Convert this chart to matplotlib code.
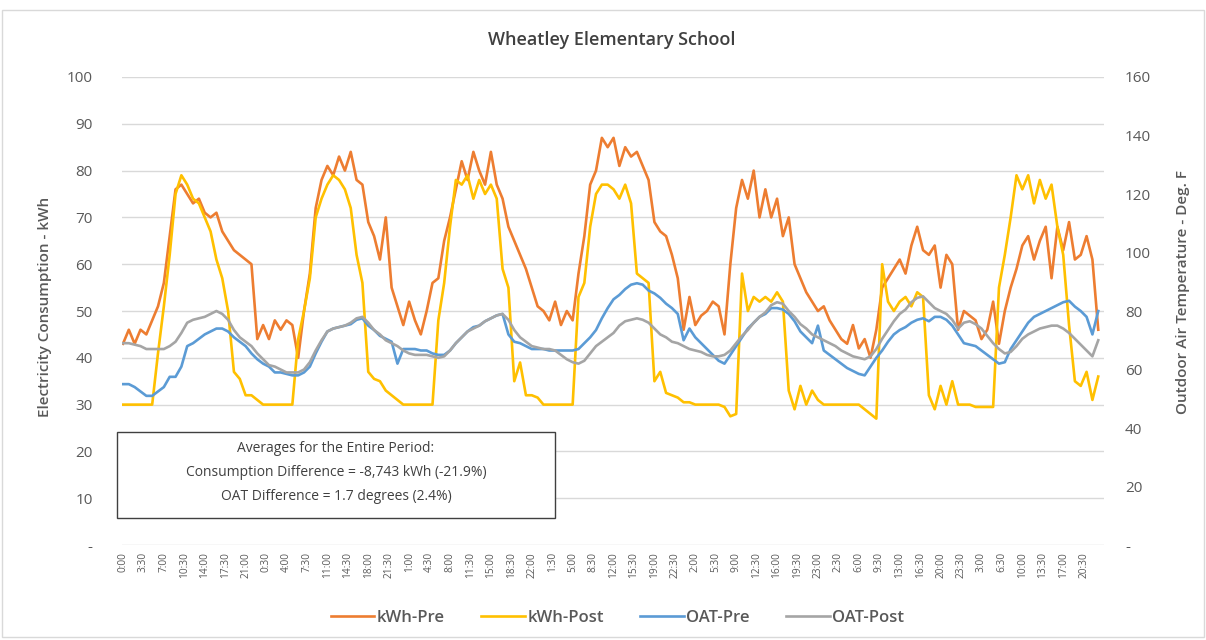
import matplotlib
matplotlib.use("Agg")
import matplotlib.pyplot as plt
from matplotlib.patches import Rectangle
from matplotlib.ticker import FixedLocator, FixedFormatter
import numpy as np

plt.rcParams["font.family"] = ["Open Sans", "DejaVu Sans"]

# hourly readings, one row per day (7 days x 24 h)
kwh_pre = [
    43, 46, 43, 46, 45, 48, 51, 56, 66, 76, 77, 75, 73, 74, 71, 70, 71, 67, 65, 63, 62, 61, 60, 44,
    47, 44, 48, 46, 48, 47, 40, 50, 58, 72, 78, 81, 79, 83, 80, 84, 78, 77, 69, 66, 61, 70, 55, 51,
    47, 52, 48, 45, 50, 56, 57, 65, 70, 76, 82, 78, 84, 80, 77, 84, 77, 74, 68, 65, 62, 59, 55, 51,
    50, 48, 52, 47, 50, 48, 58, 66, 77, 80, 87, 85, 87, 81, 85, 83, 84, 81, 78, 69, 67, 66, 62, 57,
    46, 53, 47, 49, 50, 52, 51, 45, 60, 72, 78, 74, 80, 70, 76, 70, 74, 66, 70, 60, 57, 54, 52, 50,
    51, 48, 46, 44, 43, 47, 42, 44, 40, 46, 55, 57, 59, 61, 58, 64, 68, 63, 62, 64, 55, 62, 60, 46,
    50, 49, 48, 44, 46, 52, 43, 50, 55, 59, 64, 66, 61, 65, 68, 57, 68, 63, 69, 61, 62, 66, 61, 46,
]
kwh_post = [
    30, 30, 30, 30, 30, 30, 41, 51, 62, 75, 79, 77, 74, 73, 70, 67, 61, 57, 50, 37, 35.5, 32, 32, 31,
    30, 30, 30, 30, 30, 30, 44, 50, 57, 70, 74, 77, 79, 78, 76, 72, 62, 56, 37, 35.5, 35, 33, 32, 31,
    30, 30, 30, 30, 30, 30, 48, 56, 68, 78, 77, 79, 74, 78, 75, 77, 74, 59, 55, 35, 39, 32, 32, 31.5,
    30, 30, 30, 30, 30, 30, 53, 56, 68, 75, 77, 77, 76, 74, 77, 73, 58, 57, 56, 35, 37, 32.5, 32, 31.5,
    30.5, 30.5, 30, 30, 30, 30, 30, 29.5, 27.5, 28, 58, 50, 53, 52, 53, 52, 54, 52, 33, 29, 34, 30, 33, 31,
    30, 30, 30, 30, 30, 30, 30, 29, 28, 27, 60, 52, 50, 52, 53, 51, 54, 53, 32, 29, 34, 30, 35, 30,
    30, 30, 29.5, 29.5, 29.5, 29.5, 55, 62, 70, 79, 76, 79, 73, 78, 74, 77, 68, 62, 47, 35, 34, 37, 31, 36,
]
oat_pre = [
    55, 55, 54, 52.5, 51, 51, 52.5, 54, 57.5, 57.5, 61, 68, 69, 70.5, 72, 73, 74, 74, 73, 71, 69.5, 68, 65.5, 63.5,
    62, 61, 59, 59, 58.5, 58, 58, 59, 61, 65.5, 69.5, 73, 74, 74.5, 75, 75.5, 77, 77.5, 75, 73.5, 71.5, 70.5, 69.5, 62,
    67, 67, 67, 66.5, 66.5, 65.5, 65, 65, 66.5, 69, 71, 73, 74.5, 75, 76.5, 77.5, 78.5, 79, 72, 69.5, 69, 68, 67, 67,
    67, 66.5, 66.5, 66.5, 66.5, 66.5, 67, 69, 71, 73.5, 77.5, 81, 84, 85.5, 87.5, 89, 89.5, 89, 87, 86, 84.5, 82.5, 81, 79,
    70, 74, 71, 69, 67, 65, 63, 62, 65, 68, 71, 74, 76, 78, 79, 81, 81, 80.5, 79, 76.5, 73, 71, 69, 75,
    66.5, 65, 63.5, 62, 60.5, 59.5, 58.5, 58, 61, 64, 66.5, 69.5, 72, 73.5, 74.5, 76, 77, 77.5, 76.5, 78, 78, 77, 75, 72,
    69, 68.5, 68, 66.5, 65, 63.5, 62, 62.5, 67, 70, 73, 76, 78, 79, 80, 81, 82, 83, 83.5, 81.5, 80, 78, 72, 80,
]
oat_post = [
    69, 69, 68.5, 68, 67, 67, 67, 67, 68, 69.5, 72.5, 76, 77, 77.5, 78, 79, 80, 79, 77, 73.5, 71, 69.5, 68, 65.5,
    63.5, 61.5, 61, 60, 59, 59, 59, 60, 62.5, 66.5, 70, 73, 74, 74.5, 75, 76, 77.5, 78, 76, 73.5, 72, 70, 69, 68,
    66.5, 65.5, 65, 65, 65, 64.5, 64, 64.5, 66.5, 69, 71, 73, 74, 75, 76.5, 77.5, 78.5, 79, 77, 73.5, 71, 69.5, 68, 67.5,
    67, 67, 66.5, 65, 63.5, 62.5, 62, 63, 65.5, 68, 69.5, 71, 72.5, 75, 76.5, 77, 77.5, 77, 76, 74, 72, 71, 69.5, 69,
    68, 67, 66.5, 66, 65, 64.5, 64.5, 65, 66.5, 69, 71.5, 73.5, 76, 78, 79.5, 82, 83, 82.5, 80, 78, 75.5, 74, 72, 71,
    70, 69, 68, 66.5, 65.5, 64.5, 64, 63.5, 64.5, 67, 70.5, 73.5, 76.5, 79, 80.5, 83, 84.5, 85, 83, 81, 80, 79, 77, 74,
    76, 76.5, 75.5, 74, 71.5, 69, 67, 65.5, 66, 68, 70.5, 72, 73, 74, 74.5, 75, 75, 74, 72.5, 70.5, 68.5, 66.5, 64.5, 70,
]

time_labels = ["0:00", "3:30", "7:00", "10:30", "14:00", "17:30", "21:00", "0:30",
               "4:00", "7:30", "11:00", "14:30", "18:00", "21:30", "1:00", "4:30",
               "8:00", "11:30", "15:00", "18:30", "22:00", "1:30", "5:00", "8:30",
               "12:00", "15:30", "19:00", "22:30", "2:00", "5:30", "9:00", "12:30",
               "16:00", "19:30", "23:00", "2:30", "6:00", "9:30", "13:00", "16:30",
               "20:00", "23:30", "3:00", "6:30", "10:00", "13:30", "17:00", "20:30"]
kwh_ticks = [0, 10, 20, 30, 40, 50, 60, 70, 80, 90, 100]
kwh_tick_labels = ["-", "10", "20", "30", "40", "50", "60", "70", "80", "90", "100"]
oat_ticks = [0, 20, 40, 60, 80, 100, 120, 140, 160]
oat_tick_labels = ["-", "20", "40", "60", "80", "100", "120", "140", "160"]

ORANGE, GOLD, BLUE, GREY = "#ED7D31", "#FFC000", "#5B9BD5", "#A5A5A5"
TXT = "#595959"

hours = np.arange(len(kwh_pre))

fig = plt.figure(figsize=(12.06, 6.4), dpi=100)
ax = fig.add_axes([0.101, 0.1484, 0.8145, 0.7313])
ax2 = ax.twinx()

l1, = ax.plot(hours, kwh_pre, color=ORANGE, lw=1.9, label="kWh-Pre")
l2, = ax.plot(hours, kwh_post, color=GOLD, lw=1.9, label="kWh-Post")
l3, = ax2.plot(hours, oat_pre, color=BLUE, lw=1.9, label="OAT-Pre")
l4, = ax2.plot(hours, oat_post, color=GREY, lw=1.9, label="OAT-Post")

ax.set_xlim(-0.2, 168)
ax.set_ylim(0, 100)
ax2.set_ylim(0, 160)

ax.yaxis.set_major_locator(FixedLocator(kwh_ticks))
ax.yaxis.set_major_formatter(FixedFormatter(kwh_tick_labels))
ax2.yaxis.set_major_locator(FixedLocator(oat_ticks))
ax2.yaxis.set_major_formatter(FixedFormatter(oat_tick_labels))
ax.set_xticks(np.arange(len(time_labels)) * 3.5)
ax.set_xticklabels(time_labels, rotation=90, fontsize=7.3, color=TXT)

ax.tick_params(axis="y", length=0, pad=21, labelsize=11, labelcolor=TXT)
ax2.tick_params(axis="y", length=0, pad=15, labelsize=11, labelcolor=TXT)
ax.tick_params(axis="x", length=0, pad=5)

ax.grid(axis="y", color="#d9d9d9", lw=1)
ax.set_axisbelow(True)
for a in (ax, ax2):
    for s in a.spines.values():
        s.set_visible(False)

fig.text(0.5075, 0.9375, "Wheatley Elementary School", ha="center", va="center",
         fontsize=13, color="#404040", fontweight="semibold")
fig.text(0.037, 0.52, "Electricity Consumption - kWh", rotation=90, ha="center",
         va="center", fontsize=11, color=TXT, fontweight="semibold")
fig.text(0.981, 0.544, "Outdoor Air Temperature - Deg. F", rotation=90, ha="center",
         va="center", fontsize=11, color=TXT, fontweight="semibold")

# averages note box
fig.patches.append(Rectangle((0.097, 0.1906), 0.363, 0.1344, transform=fig.transFigure,
                             facecolor="white", edgecolor="#404040", lw=1, zorder=5))
notes = ["Averages for the Entire Period:",
         "Consumption Difference = -8,743 kWh (-21.9%)",
         "OAT Difference = 1.7 degrees (2.4%)"]
for yy, t in zip([0.300, 0.2625, 0.225], notes):
    fig.text(0.2786, yy, t, ha="center", va="center", fontsize=10, color="#404040", zorder=6)

# chart border
fig.patches.append(Rectangle((0.002, 0.004), 0.996, 0.98, transform=fig.transFigure,
                             facecolor="none", edgecolor="#d9d9d9", lw=1))

fig.legend(handles=[l1, l2, l3, l4], loc="center", bbox_to_anchor=(0.512, 0.034),
           ncol=4, frameon=False, handlelength=2.6, columnspacing=2.2,
           handletextpad=0.15, labelcolor=TXT, prop={"weight": "semibold", "size": 12})

fig.savefig("out.png", dpi=100)
